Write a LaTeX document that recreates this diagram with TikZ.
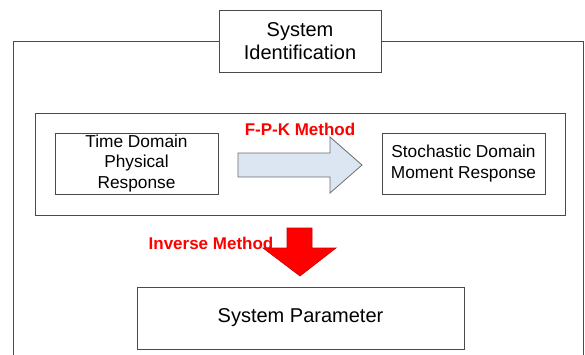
\documentclass[tikz,border=0pt]{standalone}
\usepackage{fontspec}
\setmainfont{Liberation Sans}
\usetikzlibrary{shapes.arrows}
\definecolor{lineg}{HTML}{4A4A4A}
\definecolor{arrowfill}{HTML}{DCE6F2}
\begin{document}
\begin{tikzpicture}[x=1pt,y=-1pt,
  boxst/.style={draw=lineg, line width=1pt, fill=white, align=center, inner sep=0pt},
  redlab/.style={text=red, font=\bfseries\fontsize{17}{19}\selectfont}]
\useasboundingbox (0,0) rectangle (585,354);
% outer frame
\draw[lineg, line width=1pt] (13,360) -- (13,41) -- (583,41) -- (583,360);
% title box
\node[boxst, minimum width=162pt, minimum height=62pt, font=\fontsize{20}{23}\selectfont] (title) at (300,41) {System\\Identification};
% inner box
\node[boxst, minimum width=530pt, minimum height=102pt] (inner) at (300,164) {};
% left and right nodes
\node[boxst, minimum width=163pt, minimum height=61pt, font=\fontsize{17.3}{20.5}\selectfont] (tdom) at (136.5,163.5) {Time Domain\\Physical\\Response};
\node[boxst, minimum width=163pt, minimum height=61pt, font=\fontsize{17.3}{21}\selectfont] (sdom) at (463.5,163.5) {Stochastic Domain\\Moment Response};
% block arrow right
\draw[draw=lineg!80, line width=0.8pt, fill=arrowfill]
  (238,153) -- (330,153) -- (330,137) -- (362,165) -- (330,193) -- (330,177) -- (238,177) -- cycle;
\node[redlab] (fpk) at (300,129) {F-P-K Method};
% red down arrow
\draw[draw=red!80!black, line width=0.6pt, fill=red]
  (287,228) -- (312,228) -- (312,248) -- (336,248) -- (300,276) -- (263,248) -- (287,248) -- cycle;
\node[redlab] (inv) at (211,243) {Inverse Method};
% system parameter
\node[boxst, minimum width=327pt, minimum height=62pt, font=\fontsize{20}{23}\selectfont] (sp) at (300.5,318) {System Parameter};
\end{tikzpicture}
\end{document}
